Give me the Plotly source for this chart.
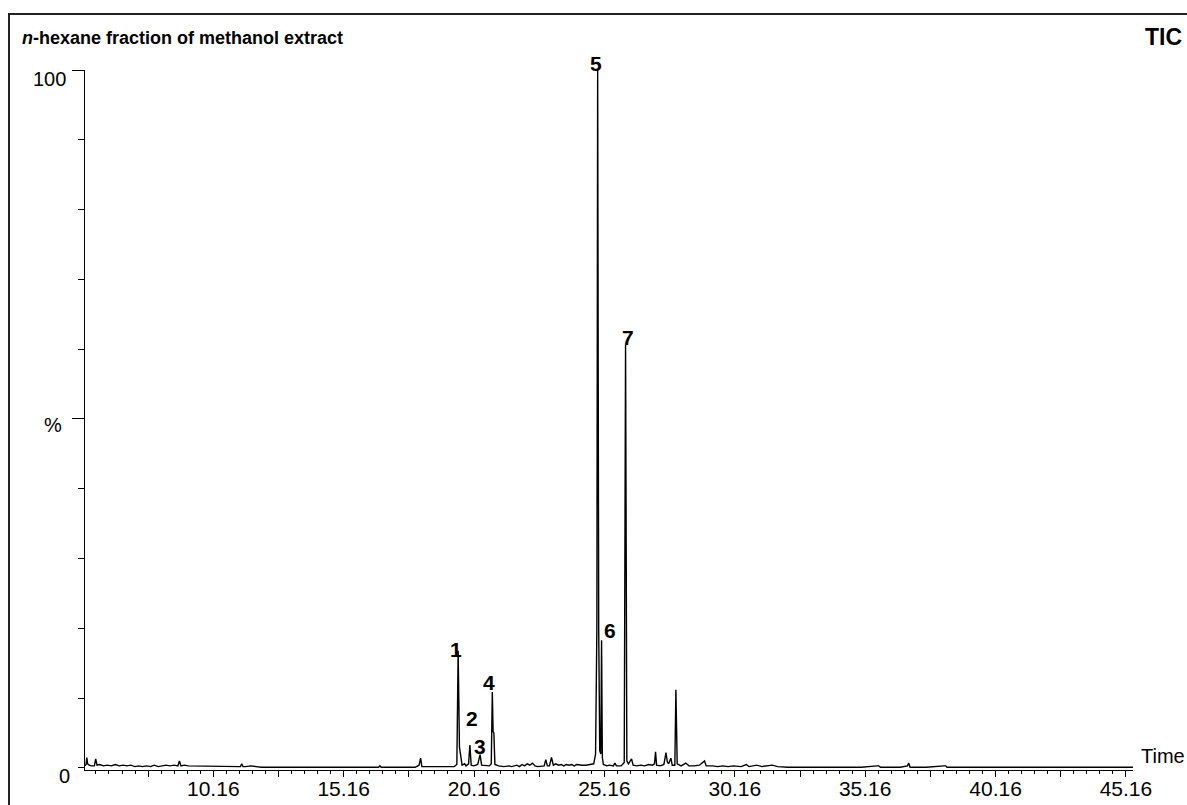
import plotly.graph_objects as go

# ---------------- data ----------------
retention_time = [
    5.24, 5.28, 5.31, 5.34, 5.40, 5.48, 5.60, 5.65, 5.70, 5.80, 5.95, 6.10, 6.25, 6.40,
    6.55, 6.70, 6.85, 7.00, 7.15, 7.30, 7.45, 7.60, 7.75, 7.90, 8.05, 8.20, 8.35, 8.50,
    8.65, 8.80, 8.86, 8.92, 9.05, 9.20, 9.40, 9.55, 9.70, 9.85, 10.00, 10.20, 10.40,
    10.60, 10.80, 11.00, 11.20, 11.25, 11.30, 11.40, 11.60, 11.80, 12.00, 12.50, 13.00,
    13.50, 14.00, 14.50, 15.00, 15.50, 16.00, 16.50, 16.55, 16.60, 17.00, 17.50, 17.90,
    18.05, 18.11, 18.16, 18.50, 18.80, 19.00, 19.20, 19.40, 19.50, 19.55, 19.60, 19.65,
    19.70, 19.80, 19.85, 19.95, 20.00, 20.05, 20.15, 20.30, 20.39, 20.45, 20.60, 20.75,
    20.82, 20.86, 20.89, 20.92, 20.96, 21.10, 21.30, 21.50, 21.60, 21.80, 21.90, 22.00,
    22.10, 22.20, 22.30, 22.40, 22.50, 22.60, 22.85, 22.91, 22.97, 23.05, 23.13, 23.20,
    23.30, 23.40, 23.50, 23.60, 23.70, 23.80, 23.90, 24.00, 24.10, 24.20, 24.30, 24.45,
    24.60, 24.75, 24.82, 24.87, 24.90, 24.94, 24.98, 25.02, 25.05, 25.08, 25.12, 25.25,
    25.35, 25.50, 25.56, 25.62, 25.80, 25.92, 25.97, 26.02, 26.08, 26.20, 26.26, 26.40,
    26.55, 26.70, 26.85, 27.00, 27.08, 27.12, 27.16, 27.30, 27.44, 27.52, 27.57, 27.62,
    27.71, 27.76, 27.86, 27.90, 27.95, 28.10, 28.28, 28.40, 28.60, 28.80, 29.00, 29.06,
    29.30, 29.50, 29.70, 29.90, 30.10, 30.40, 30.60, 30.70, 31.00, 31.20, 31.60, 31.80,
    32.20, 33.00, 34.00, 35.00, 35.62, 35.68, 35.75, 36.50, 36.78, 36.83, 36.88, 37.50,
    38.18, 38.25, 38.30, 39.00, 40.00, 41.00, 42.00, 43.00, 44.00, 45.43,
]
intensity_pct = [
    0.3, 0.5, 1.5, 0.6, 0.4, 0.3, 0.3, 1.3, 0.4, 0.5, 0.3, 0.4, 0.3, 0.5,
    0.3, 0.4, 0.3, 0.4, 0.2, 0.3, 0.2, 0.3, 0.2, 0.4, 0.2, 0.3, 0.4, 0.3,
    0.4, 0.3, 1.0, 0.3, 0.4, 0.3, 0.3, 0.2, 0.3, 0.2, 0.3, 0.2, 0.3,
    0.2, 0.2, 0.2, 0.2, 0.6, 0.2, 0.2, 0.3, 0.2, 0.1, 0.1, 0.1,
    0.1, 0.1, 0.1, 0.1, 0.1, 0.1, 0.1, 0.3, 0.1, 0.1, 0.1, 0.1,
    0.4, 1.4, 0.2, 0.2, 0.3, 0.2, 0.3, 0.2, 0.5, 16.8, 3.0, 1.2,
    0.4, 0.6, 0.3, 0.6, 3.3, 0.4, 0.3, 0.5, 1.9, 0.4, 0.3, 0.3,
    0.6, 10.9, 5.2, 5.0, 0.5, 0.3, 0.2, 0.3, 0.2, 0.4, 0.2, 0.5,
    0.3, 0.6, 0.4, 0.7, 0.3, 0.2, 0.3, 1.2, 0.3, 0.3, 1.5, 0.4,
    0.6, 0.4, 0.5, 0.3, 0.5, 0.4, 0.5, 0.3, 0.5, 0.4, 0.4, 0.4,
    0.5, 0.6, 2.0, 20.0, 100.0, 20.0, 2.5, 2.0, 18.3, 1.5, 0.5, 0.3,
    0.4, 0.3, 0.7, 0.3, 0.3, 0.8, 60.6, 1.0, 0.6, 1.3, 0.4, 0.3,
    0.4, 0.3, 0.5, 0.4, 0.6, 2.3, 0.4, 0.3, 0.5, 2.2, 0.9, 0.6,
    1.4, 0.4, 0.4, 11.2, 0.6, 0.3, 0.7, 0.3, 0.3, 0.4, 1.0, 0.3,
    0.3, 0.2, 0.3, 0.2, 0.3, 0.2, 0.5, 0.2, 0.4, 0.2, 0.4, 0.2,
    0.1, 0.1, 0.1, 0.1, 0.3, 0.3, 0.1, 0.1, 0.3, 0.7, 0.1, 0.1,
    0.3, 0.3, 0.1, 0.1, 0.1, 0.1, 0.1, 0.1, 0.1, 0.1,
]

peak_numbers = ["1", "2", "3", "4", "5", "6", "7"]
peak_time = [19.55, 20.00, 20.39, 20.86, 24.90, 25.05, 25.97]
peak_height = [16.8, 3.3, 1.9, 10.9, 100.0, 18.3, 60.6]

major_tick_times = [7.66, 10.16, 12.66, 15.16, 17.66, 20.16, 22.66, 25.16, 27.66,
                    30.16, 32.66, 35.16, 37.66, 40.16, 42.66, 45.16]
major_tick_labels = ["", "10.16", "", "15.16", "", "20.16", "", "25.16", "",
                     "30.16", "", "35.16", "", "40.16", "", "45.16"]

chart_title = "<b><i>n</i>-hexane fraction of methanol extract</b>"
trace_label = "<b>TIC</b>"
x_axis_label = "Time"
y_axis_labels = ["100", "%", "0"]

# ---------------- layout helpers ----------------
W, H = 1187, 805
L, R, T, B = 85, 1133, 70, 770
FONT = "Liberation Sans, Arial, sans-serif"


def fx(px):
    return (px - L) / (R - L)


def fy(py):
    return (B - py) / (B - T)


fig = go.Figure()
fig.add_trace(go.Scatter(
    x=retention_time, y=intensity_pct, mode="lines",
    line=dict(color="black", width=1.4), hoverinfo="skip", showlegend=False,
))

# per-label pixel offsets relative to the peak apex (xshift, yshift)
label_offsets = [(-2, 1), (2, 26), (0, 8), (-3, 9), (-2, 7), (8, 10), (2, 8)]
for num, t, h, (dx, dy) in zip(peak_numbers, peak_time, peak_height, label_offsets):
    fig.add_annotation(x=t, y=h, xref="x", yref="y", text=f"<b>{num}</b>",
                       showarrow=False, xanchor="center", yanchor="middle",
                       xshift=dx, yshift=dy,
                       font=dict(family=FONT, size=21, color="black"))

# title, trace label, axis labels
fig.add_annotation(x=fx(20), y=fy(38), xref="paper", yref="paper", text=chart_title,
                   showarrow=False, xanchor="left", yanchor="middle",
                   font=dict(family=FONT, size=18, color="black"))
fig.add_annotation(x=fx(1184), y=fy(37), xref="paper", yref="paper", text=trace_label,
                   showarrow=False, xanchor="right", yanchor="middle",
                   font=dict(family=FONT, size=23, color="black"))
fig.add_annotation(x=fx(1139), y=fy(756), xref="paper", yref="paper", text=x_axis_label,
                   showarrow=False, xanchor="left", yanchor="middle",
                   font=dict(family=FONT, size=20, color="black"))
for txt, xp, yp, anc in zip(y_axis_labels, [68, 53, 72], [79, 425, 776],
                            ["right", "center", "right"]):
    fig.add_annotation(x=fx(xp), y=fy(yp), xref="paper", yref="paper", text=txt,
                       showarrow=False, xanchor=anc, yanchor="middle",
                       font=dict(family=FONT, size=20, color="black"))

# outer frame
fig.add_shape(type="rect", xref="paper", yref="paper",
              x0=fx(9), x1=fx(1200), y0=fy(830), y1=fy(14),
              line=dict(color="#222", width=2), fillcolor="rgba(0,0,0,0)")

fig.update_layout(
    width=W, height=H,
    margin=dict(l=L, r=W - R, t=T, b=H - B, pad=0, autoexpand=False),
    paper_bgcolor="white", plot_bgcolor="white",
    showlegend=False,
    xaxis=dict(
        range=[5.24, 45.43], showgrid=False, zeroline=False, automargin=False,
        showline=True, linecolor="black", linewidth=1,
        ticks="outside", tickmode="array", tickvals=major_tick_times,
        ticktext=major_tick_labels, ticklen=6, tickwidth=1, tickcolor="black",
        ticklabelstandoff=-6,
        tickfont=dict(family=FONT, size=21, color="black"),
        minor=dict(ticks="outside", tickmode="linear", tick0=0.16, dtick=0.5,
                   ticklen=3, tickwidth=1, tickcolor="black", showgrid=False),
    ),
    yaxis=dict(
        range=[-0.29, 100], showgrid=False, zeroline=False, automargin=False,
        showline=True, linecolor="black", linewidth=1,
        ticks="outside", tickmode="array", tickvals=[50, 100],
        ticklen=12, tickwidth=1, tickcolor="black", showticklabels=False,
        minor=dict(ticks="outside", tickmode="linear", tick0=0, dtick=10,
                   ticklen=6, tickwidth=1, tickcolor="black", showgrid=False),
    ),
)

fig.write_html("out.html")
